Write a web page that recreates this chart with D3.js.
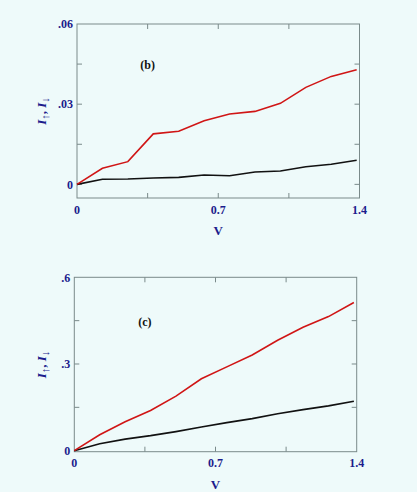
<!DOCTYPE html>
<html>
<head>
<meta charset="utf-8">
<script src="https://cdn.jsdelivr.net/npm/d3@7"></script>
<style>
  body { margin: 0; background: #eefafa; }
  svg { display: block; }
  .tick_label { font-family: "Liberation Serif", "Times New Roman", serif; font-weight: bold; font-size: 12px; fill: #1c1c8c; }
  .axis_label { font-family: "Liberation Serif", "Times New Roman", serif; font-weight: bold; font-size: 13px; fill: #1c1c8c; }
  .panel_tag { font-family: "Liberation Serif", "Times New Roman", serif; font-weight: bold; font-size: 12px; fill: #111; }
</style>
</head>
<body>
<svg id="chart"></svg>
<script>
// bias voltage (shared by both panels)
const volts = [0, 0.126, 0.252, 0.378, 0.504, 0.63, 0.756, 0.882, 1.008, 1.134, 1.26, 1.386];

// panel (b)
const b_up = [0, 0.0060, 0.0085, 0.0189, 0.0199, 0.0238, 0.0263, 0.0273, 0.0303, 0.0363, 0.0404, 0.0429];
const b_down = [0, 0.0019, 0.0020, 0.0024, 0.0026, 0.0035, 0.0032, 0.0046, 0.0050, 0.0066, 0.0075, 0.0090];
const b_yticks = [0, 0.015, 0.03, 0.045, 0.06];
const b_ylabels = ['0', '', '.03', '', '.06'];

// panel (c)
const c_up = [0, 0.055, 0.100, 0.139, 0.189, 0.249, 0.290, 0.331, 0.382, 0.427, 0.464, 0.513];
const c_down = [0, 0.024, 0.040, 0.052, 0.066, 0.082, 0.097, 0.111, 0.128, 0.142, 0.155, 0.171];
const c_yticks = [0, 0.15, 0.3, 0.45, 0.6];
const c_ylabels = ['0', '', '.3', '', '.6'];

const x_ticks = [0, 0.35, 0.7, 1.05, 1.4];
const x_labels = ['0', '', '0.7', '', '1.4'];

const up_color = '#d01515';
const down_color = '#111111';
const frame_color = '#7a8a8a';

let width = 417, height = 492;
let svg = d3.select('#chart').attr('width', width).attr('height', height);

function draw_panel(box, y_domain, yticks, ylabels, up, down, tag) {
    let x = d3.scaleLinear().domain([0, 1.4]).range([box.left, box.right]);
    let y = d3.scaleLinear().domain(y_domain).range([box.bottom, box.top]);
    let g = svg.append('g');

    // frame
    g.append('rect')
        .attr('x', box.left).attr('y', box.top)
        .attr('width', box.right - box.left).attr('height', box.bottom - box.top)
        .attr('fill', 'none').attr('stroke', frame_color).attr('stroke-width', 1);

    let tl = 5;  // inward tick length
    // x ticks, top and bottom
    x_ticks.filter(d => d > 0 && d < 1.4).forEach(d => {
        g.append('line').attr('x1', x(d)).attr('x2', x(d))
            .attr('y1', box.bottom).attr('y2', box.bottom - tl)
            .attr('stroke', frame_color);
        g.append('line').attr('x1', x(d)).attr('x2', x(d))
            .attr('y1', box.top).attr('y2', box.top + tl)
            .attr('stroke', frame_color);
    });
    // y ticks, left and right
    yticks.filter(d => Math.abs(y(d) - box.top) > 1 && Math.abs(y(d) - box.bottom) > 1.5).forEach(d => {
        g.append('line').attr('x1', box.left).attr('x2', box.left + tl)
            .attr('y1', y(d)).attr('y2', y(d)).attr('stroke', frame_color);
        g.append('line').attr('x1', box.right).attr('x2', box.right - tl)
            .attr('y1', y(d)).attr('y2', y(d)).attr('stroke', frame_color);
    });

    // tick labels
    g.selectAll('.ylab').data(yticks).enter().append('text')
        .attr('class', 'tick_label')
        .attr('x', box.left - 4)
        .attr('y', d => y(d))
        .attr('dy', '0.35em')
        .attr('text-anchor', 'end')
        .text((d, i) => ylabels[i]);
    g.selectAll('.xlab').data(x_ticks).enter().append('text')
        .attr('class', 'tick_label')
        .attr('x', d => x(d))
        .attr('y', box.bottom + 15.5)
        .attr('text-anchor', 'middle')
        .text((d, i) => x_labels[i]);

    // axis labels
    g.append('text')
        .attr('class', 'axis_label')
        .attr('x', x(0.7))
        .attr('y', box.bottom + 37)
        .attr('text-anchor', 'middle')
        .text('V');
    let yl = g.append('text')
        .attr('class', 'axis_label')
        .attr('font-size', '14px')
        .attr('transform', `translate(46, ${(box.top + box.bottom) / 2}) rotate(-90)`)
        .attr('text-anchor', 'middle');
    yl.append('tspan').attr('font-style', 'italic').text('I');
    yl.append('tspan').attr('font-size', '11px').attr('dy', 3).text('↑');
    yl.append('tspan').attr('dy', -3).text(', ');
    yl.append('tspan').attr('font-style', 'italic').text('I');
    yl.append('tspan').attr('font-size', '11px').attr('dy', 3).text('↓');

    g.append('text')
        .attr('class', 'panel_tag')
        .attr('x', x(0.35))
        .attr('y', y(yticks[3]) + 5)
        .attr('text-anchor', 'middle')
        .text(tag);

    // curves
    let line = d3.line().x((d, i) => x(volts[i])).y(d => y(d));
    g.append('path').datum(down).attr('d', line)
        .attr('fill', 'none').attr('stroke', down_color).attr('stroke-width', 1.6);
    g.append('path').datum(up).attr('d', line)
        .attr('fill', 'none').attr('stroke', up_color).attr('stroke-width', 1.6);
}

draw_panel({ left: 77, right: 359.5, top: 24, bottom: 198 }, [-0.0051, 0.06], b_yticks, b_ylabels, b_up, b_down, '(b)');
draw_panel({ left: 74.3, right: 356.7, top: 277.3, bottom: 451.7 }, [-0.0035, 0.6], c_yticks, c_ylabels, c_up, c_down, '(c)');
</script>
</body>
</html>
